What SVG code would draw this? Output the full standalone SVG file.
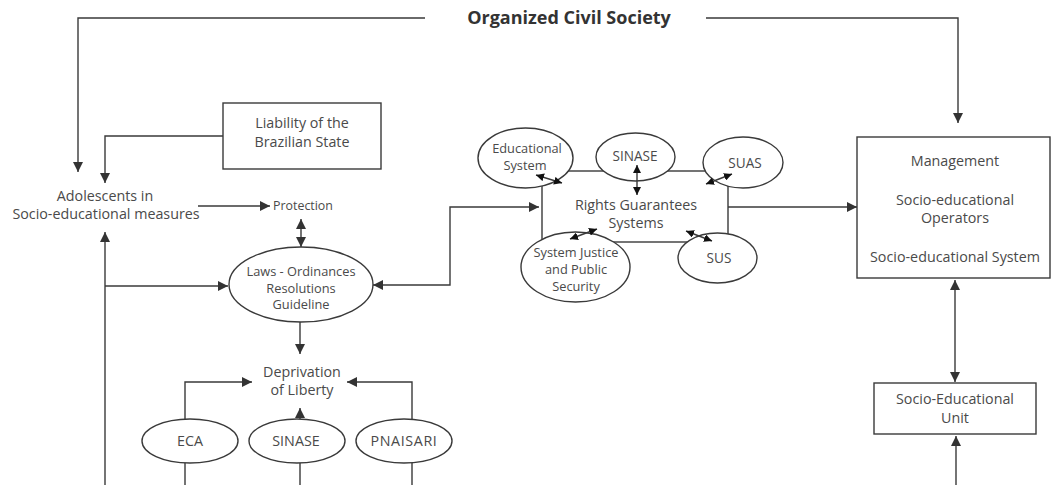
<svg xmlns="http://www.w3.org/2000/svg" width="1053" height="485" viewBox="0 0 1053 485">
<style>
.ln{fill:none;stroke:#3a3a3a;stroke-width:1.4}
.sh{fill:#fff;stroke:#3a3a3a;stroke-width:1.4}
text{font-family:"Open Sans","Liberation Sans",sans-serif;fill:#4a4a4a;text-anchor:middle;font-size:14.3px}
.s{font-size:12.4px}
.m{font-size:12.8px}
.c{font-size:13.6px}
.p{font-size:14.3px;letter-spacing:0.6px}
.b{font-weight:bold;font-size:18px;fill:#333}
</style>
<defs>
<marker id="a" viewBox="0 0 10 10" refX="10" refY="5" markerWidth="10" markerHeight="10" markerUnits="userSpaceOnUse" orient="auto-start-reverse"><path d="M0,0 L10,5 L0,10 z" fill="#333"/></marker>
<marker id="sa" viewBox="0 0 10 10" refX="10" refY="5" markerWidth="8" markerHeight="8" markerUnits="userSpaceOnUse" orient="auto-start-reverse"><path d="M0,0 L10,5 L0,10 z" fill="#111"/></marker>
</defs>
<g id="connectors">
<path class="ln" d="M425,18 H78 V172" marker-end="url(#a)"/>
<path class="ln" d="M706,18 H958 V123" marker-end="url(#a)"/>
<path class="ln" d="M223,136 H105 V183" marker-end="url(#a)"/>
<path class="ln" d="M198,206 H270" marker-end="url(#a)"/>
<path class="ln" d="M301,219 V247" marker-start="url(#a)" marker-end="url(#a)"/>
<path class="ln" d="M105,485 V232" marker-end="url(#a)"/>
<path class="ln" d="M105,286 H228" marker-end="url(#a)"/>
<path class="ln" d="M373,285 H450 V207 H539" marker-start="url(#a)" marker-end="url(#a)"/>
<path class="ln" d="M728,207 H857" marker-end="url(#a)"/>
<path class="ln" d="M955,280 V382" marker-start="url(#a)" marker-end="url(#a)"/>
<path class="ln" d="M956,485 V436" marker-end="url(#a)"/>
<path class="ln" d="M300,322 V354" marker-end="url(#a)"/>
<path class="ln" d="M185,485 V463 M185,419 V382 H252" marker-end="url(#a)"/>
<path class="ln" d="M300,485 V463 M300,419 V408" marker-end="url(#a)"/>
<path class="ln" d="M412,485 V463 M412,419 V382 H347" marker-end="url(#a)"/>
</g>
<g id="title"><text class="b" x="569" y="24">Organized Civil Society</text></g>
<g id="liability"><rect class="sh" x="223" y="103" width="158" height="66"/><text x="302" y="128">Liability of the</text><text x="302" y="147">Brazilian State</text></g>
<g id="adolescents"><text x="105" y="201">Adolescents in</text><text x="106" y="219">Socio-educational measures</text></g>
<g id="protection"><text class="s" x="303" y="210">Protection</text></g>
<g id="laws"><ellipse class="sh" cx="301" cy="284.5" rx="72" ry="37.5"/><text class="m" x="301" y="276">Laws - Ordinances</text><text class="m" x="301" y="293">Resolutions</text><text class="m" x="301" y="309">Guideline</text></g>
<g id="rights"><rect class="sh" x="542" y="171" width="186" height="71"/><text x="636" y="210">Rights Guarantees</text><text x="636" y="228">Systems</text></g>
<g id="educational"><ellipse class="sh" cx="525.5" cy="158" rx="47.5" ry="30"/><text class="m" x="527" y="153">Educational</text><text class="m" x="525" y="170">System</text></g>
<g id="sinase-top"><ellipse class="sh" cx="635.5" cy="157" rx="39.5" ry="24"/><text class="c" x="635" y="161">SINASE</text></g>
<g id="suas"><ellipse class="sh" cx="743" cy="162.5" rx="40" ry="25.5"/><text class="c" x="745" y="168">SUAS</text></g>
<g id="justice"><ellipse class="sh" cx="575.5" cy="267" rx="54.5" ry="35"/><text class="m" x="576" y="257">System Justice</text><text class="m" x="576" y="274">and Public</text><text class="m" x="576" y="291">Security</text></g>
<g id="sus"><ellipse class="sh" cx="717.5" cy="258" rx="39.5" ry="25"/><text class="c" x="719" y="263">SUS</text></g>
<g id="small-arrows">
<path class="ln" d="M536,175 L562,183" marker-start="url(#sa)" marker-end="url(#sa)"/>
<path class="ln" d="M637,165 V195" marker-start="url(#sa)" marker-end="url(#sa)"/>
<path class="ln" d="M706,184 L732,174" marker-start="url(#sa)" marker-end="url(#sa)"/>
<path class="ln" d="M570,239 L597,229" marker-start="url(#sa)" marker-end="url(#sa)"/>
<path class="ln" d="M686,231 L712,241" marker-start="url(#sa)" marker-end="url(#sa)"/>
</g>
<g id="management"><rect class="sh" x="857" y="137" width="193" height="141"/><text x="955" y="166">Management</text><text x="955" y="205">Socio-educational</text><text x="955" y="223">Operators</text><text x="955" y="262">Socio-educational System</text></g>
<g id="unit"><rect class="sh" x="874" y="383" width="162" height="51"/><text x="955" y="404">Socio-Educational</text><text x="955" y="423">Unit</text></g>
<g id="deprivation"><text x="302" y="377">Deprivation</text><text x="302" y="395">of Liberty</text></g>
<g id="eca"><ellipse class="sh" cx="190" cy="441" rx="48" ry="22"/><text x="190" y="446">ECA</text></g>
<g id="sinase-bottom"><ellipse class="sh" cx="297" cy="441" rx="48" ry="22"/><text x="296" y="446">SINASE</text></g>
<g id="pnaisari"><ellipse class="sh" cx="404" cy="441" rx="48" ry="22"/><text class="p" x="404" y="446">PNAISARI</text></g>
</svg>
